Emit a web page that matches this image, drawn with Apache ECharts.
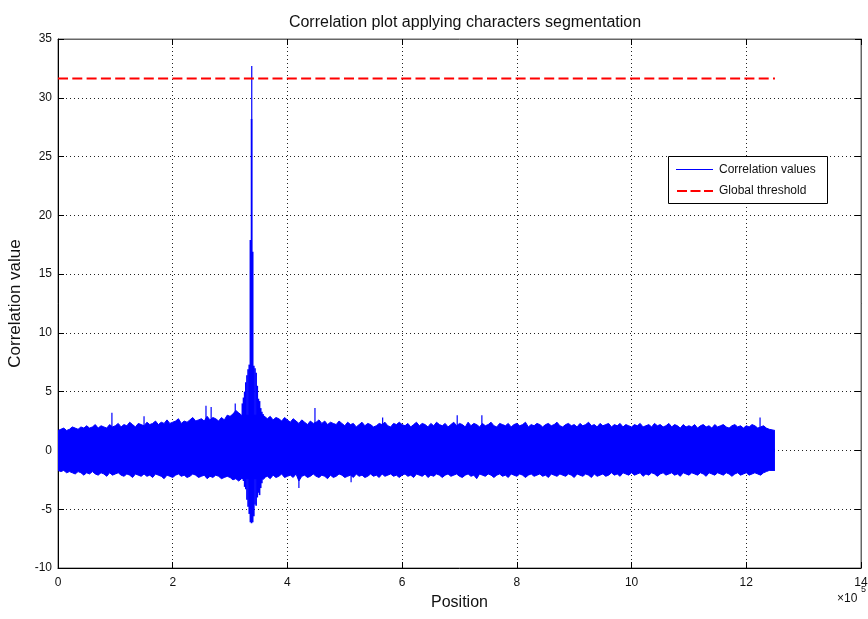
<!DOCTYPE html>
<html>
<head>
<meta charset="utf-8">
<script src="https://cdn.jsdelivr.net/npm/echarts@6/dist/echarts.min.js"></script>
<style>html,body{margin:0;padding:0;background:#fff}#c{width:868px;height:619px}</style>
</head>
<body>
<div id="c"></div>
<script>
// ---- data ----
const binSize = 5000; // positions per envelope sample
const envHigh = [
  1.7,1.8,1.9,1.7,1.8,2.0,1.9,1.8,2.0,1.9, 2.1,1.9,2.0,2.2,1.9,2.1,2.0,1.9,2.2,2.0,
  2.1,2.3,2.0,2.2,2.1,2.4,2.2,2.0,2.3,2.2, 2.1,2.4,2.2,2.3,2.5,2.2,2.4,2.3,2.6,2.3,
  2.4,2.5,2.7,2.3,2.5,2.4,2.6,2.8,2.5,2.6, 2.7,2.5,2.9,2.6,2.8,2.7,2.5,2.8,2.6,3.0,
  2.9,3.1,3.4,3.2,3.0,3.0,3.0,3.0,3.0,3.0, 3.0,3.0,2.9,2.7,2.9,2.6,2.8,2.7,2.5,2.8,
  2.6,2.4,2.7,2.5,2.3,2.6,2.4,2.2,2.5,2.3, 2.4,2.6,2.3,2.5,2.2,2.4,2.3,2.2,2.5,2.3,
  2.1,2.4,2.2,2.3,2.0,2.2,2.4,2.1,2.3,2.2, 2.0,2.1,2.3,2.2,2.4,2.1,2.0,2.3,2.2,2.4,
  2.2,2.1,2.3,2.0,2.2,2.4,2.1,2.3,2.2,2.0, 2.3,2.1,2.4,2.2,2.1,2.3,2.0,2.2,2.4,2.1,
  2.3,2.2,2.0,2.4,2.1,2.3,2.2,2.0,2.3,2.1, 2.2,2.4,2.1,2.0,2.3,2.2,2.1,2.3,2.0,2.2,
  2.3,2.1,2.2,2.4,2.0,2.2,2.1,2.3,2.2,2.0, 2.2,2.3,2.1,2.2,2.4,2.1,2.0,2.2,2.3,2.1,
  2.2,2.0,2.3,2.1,2.2,2.4,2.1,2.2,2.0,2.3, 2.1,2.2,2.3,2.0,2.2,2.1,2.3,2.0,2.2,2.1,
  2.0,2.2,2.1,2.3,2.0,2.1,2.2,2.0,2.3,2.1, 2.2,2.0,2.1,2.3,2.0,2.2,2.1,1.9,2.2,2.0,
  2.1,2.0,2.2,1.9,2.1,2.2,2.0,2.1,1.9,2.2, 2.0,2.1,2.2,2.0,1.9,2.1,2.2,2.0,2.1,1.9,
  2.1,2.0,2.2,2.1,1.9,2.0,2.1,1.9,1.8,1.7
];
const envLow = [
  -1.7,-1.8,-1.7,-1.9,-1.8,-1.9,-2.0,-1.8,-1.9,-2.1, -1.9,-2.0,-1.8,-2.0,-2.1,-1.9,-2.0,-2.2,-1.9,-2.1,
  -2.0,-1.9,-2.1,-2.2,-2.0,-2.1,-2.3,-2.0,-2.1,-2.2, -2.0,-2.2,-2.1,-2.3,-2.0,-2.1,-2.2,-2.4,-2.1,-2.2,
  -2.3,-2.1,-2.0,-2.2,-2.1,-2.3,-2.2,-2.0,-2.1,-2.3, -2.2,-2.1,-2.4,-2.2,-2.3,-2.1,-2.2,-2.4,-2.3,-2.2,
  -2.3,-2.5,-2.4,-2.6,-2.4,-2.4,-2.4,-2.4,-2.4,-2.4, -2.4,-2.4,-2.3,-2.2,-2.4,-2.1,-2.3,-2.2,-2.0,-2.3,
  -2.2,-2.1,-2.3,-2.0,-2.6,-2.2,-2.1,-2.3,-2.2,-2.0, -2.2,-2.3,-2.1,-2.2,-2.4,-2.1,-2.3,-2.2,-2.0,-2.1,
  -2.3,-2.2,-2.1,-2.3,-2.0,-2.2,-2.1,-2.3,-2.2,-2.0, -2.2,-2.1,-2.3,-2.0,-2.2,-2.1,-2.0,-2.2,-2.1,-2.3,
  -2.1,-2.0,-2.2,-2.1,-2.3,-2.0,-2.1,-2.2,-2.0,-2.3, -2.1,-2.2,-2.0,-2.1,-2.3,-2.1,-2.0,-2.2,-2.1,-2.0,
  -2.2,-2.3,-2.1,-2.0,-2.2,-2.1,-2.4,-2.0,-2.1,-2.2, -2.0,-2.1,-2.3,-2.1,-2.0,-2.2,-2.1,-2.3,-2.0,-2.1,
  -2.2,-2.0,-2.1,-2.3,-2.1,-2.0,-2.2,-2.1,-2.0,-2.2, -2.1,-2.3,-2.0,-2.1,-2.2,-2.0,-2.1,-2.2,-2.0,-2.1,
  -2.3,-2.0,-2.1,-2.2,-2.0,-2.1,-2.3,-2.0,-2.2,-2.1, -2.0,-2.2,-2.1,-1.9,-2.1,-2.0,-2.2,-1.9,-2.0,-2.1,
  -1.9,-2.1,-2.0,-1.9,-2.2,-2.0,-2.1,-1.9,-2.0,-2.2, -2.0,-1.9,-2.1,-2.0,-1.9,-2.1,-2.0,-2.2,-1.9,-2.0,
  -2.1,-1.9,-2.0,-2.1,-1.9,-2.0,-2.2,-1.9,-2.0,-2.1, -1.9,-2.0,-2.1,-1.9,-2.0,-2.2,-2.0,-1.9,-2.1,-2.0,
  -1.9,-2.1,-2.0,-1.9,-2.0,-2.1,-1.9,-1.8,-1.7,-1.7
];
// fine envelope around the correlation peak
const peakStart = 320000;
const peakBin = 2000;
const peakHigh = [4.0,4.5,5.0,5.8,6.4,6.9,7.3,17.9,28.2,16.9,7.2,7.0,6.6,5.5,4.4,4.2,3.6,3.3,3.1,2.9];
const peakLow  = [-2.4,-2.6,-3.1,-3.3,-4.2,-4.8,-5.4,-6.1,-6.2,-6.1,-5.6,-4.6,-4.7,-4.0,-3.6,-3.8,-3.2,-2.8,-2.5,-2.4];
// isolated spikes sticking out of the envelope
const spikePos = [94000, 150000, 258000, 267000, 309000, 337800, 448000, 566000, 696000, 739000, 1224000, 420000, 511000];
const spikeVal = [3.2, 2.9, 3.8, 3.7, 4.0, 32.7, 3.6, 2.8, 3.0, 3.0, 2.8, -3.2, -2.7];
// global threshold
const thresholdValue = 31.65;
const thresholdRange = [0, 1250000];
// axis ticks
const xTicks = [0, 2, 4, 6, 8, 10, 12, 14]; // x 10^5
const yTicks = [-10, -5, 0, 5, 10, 15, 20, 25, 30, 35];

// ---- build data for the library ----
const envPos = envHigh.map((h, i) => (i === envHigh.length - 1) ? envHigh.length * binSize : i * binSize);
const upperData = envHigh.map((v, i) => [envPos[i], v]);
const lowerData = envLow.map((v, i) => [envPos[i], v]);
const peakData = peakHigh.map((h, i) => [peakStart + i * peakBin, peakStart + (i + 1) * peakBin, peakLow[i], h]);
const spikeData = spikePos.map((p, i) => [p, spikeVal[i]]);
const thresholdData = thresholdRange.map(x => [x, thresholdValue]);

const BLUE = '#0000ff';
function renderBand(params, api) {
  const p0 = api.coord([api.value(0), api.value(3)]);
  const p1 = api.coord([api.value(1), api.value(2)]);
  return {
    type: 'rect',
    shape: { x: p0[0], y: p0[1], width: p1[0] - p0[0] + 0.5, height: p1[1] - p0[1] },
    style: { fill: BLUE }
  };
}
function renderSpike(params, api) {
  const a = api.coord([api.value(0), 0]);
  const b = api.coord([api.value(0), api.value(1)]);
  return {
    type: 'line',
    shape: { x1: a[0], y1: a[1], x2: b[0], y2: b[1] },
    style: { stroke: BLUE, lineWidth: 1.2 }
  };
}

const FONT = 'Liberation Sans, Arial, Helvetica, sans-serif';
const dotted = { color: '#222', type: [1, 3], width: 1 };
const xMin = xTicks[0] * 1e5, xMax = xTicks[xTicks.length - 1] * 1e5, xInt = (xTicks[1] - xTicks[0]) * 1e5;
const yMin = yTicks[0], yMax = yTicks[yTicks.length - 1], yInt = yTicks[1] - yTicks[0];

const chart = echarts.init(document.getElementById('c'), null, { renderer: 'canvas' });
chart.setOption({
  animation: false,
  backgroundColor: '#fff',
  title: {
    text: 'Correlation plot applying characters segmentation',
    left: 460, top: 10, textAlign: 'center',
    textStyle: { fontFamily: FONT, fontSize: 16, fontWeight: 'normal', color: '#111' }
  },
  grid: { left: 58, right: 7, top: 39, bottom: 51, containLabel: false, outerBoundsMode: 'none',
          show: true, borderColor: '#666', borderWidth: 1, backgroundColor: '#fff' },
  xAxis: [{
    type: 'value', min: xMin, max: xMax, interval: xInt, position: 'bottom',
    name: 'Position', nameLocation: 'middle', nameGap: 27,
    nameTextStyle: { fontFamily: FONT, fontSize: 16, color: '#111' },
    axisLine: { show: true, onZero: false, lineStyle: { color: '#000', width: 1 } },
    axisTick: { show: true, inside: true, length: 6, lineStyle: { color: '#000' } },
    axisLabel: { fontFamily: FONT, fontSize: 12, color: '#111', margin: 9, formatter: v => String(v / 1e5) },
    splitLine: { show: true, lineStyle: dotted }
  }, {
    type: 'value', min: xMin, max: xMax, interval: xInt, position: 'top',
    axisLine: { show: true, onZero: false, lineStyle: { color: '#666', width: 1 } },
    axisTick: { show: true, inside: true, length: 6, lineStyle: { color: '#000' } },
    axisLabel: { show: false }, splitLine: { show: false }
  }],
  yAxis: [{
    type: 'value', min: yMin, max: yMax, interval: yInt, position: 'left',
    name: 'Correlation value', nameLocation: 'middle', nameGap: 32,
    nameTextStyle: { fontFamily: FONT, fontSize: 17, color: '#111' },
    axisLine: { show: true, onZero: false, lineStyle: { color: '#000', width: 1 } },
    axisTick: { show: true, inside: true, length: 6, lineStyle: { color: '#000' } },
    axisLabel: { fontFamily: FONT, fontSize: 12, color: '#111', margin: 6 },
    splitLine: { show: true, lineStyle: dotted }
  }, {
    type: 'value', min: yMin, max: yMax, interval: yInt, position: 'right',
    axisLine: { show: true, onZero: false, lineStyle: { color: '#666', width: 1 } },
    axisTick: { show: true, inside: true, length: 6, lineStyle: { color: '#000' } },
    axisLabel: { show: false }, splitLine: { show: false }
  }],
  series: [
    { type: 'line', name: 'Correlation values', data: upperData, symbol: 'none', silent: true, z: 2,
      lineStyle: { color: BLUE, width: 1 }, areaStyle: { color: BLUE, opacity: 1, origin: -0.15 } },
    { type: 'line', name: 'Correlation values', data: lowerData, symbol: 'none', silent: true, z: 2,
      lineStyle: { color: BLUE, width: 1 }, areaStyle: { color: BLUE, opacity: 1, origin: 0.15 } },
    { type: 'custom', name: 'Correlation values', renderItem: renderBand, data: peakData,
      encode: { x: [0, 1], y: [2, 3] }, clip: true, silent: true, z: 3 },
    { type: 'custom', name: 'Correlation values', renderItem: renderSpike, data: spikeData,
      encode: { x: 0, y: 1 }, clip: true, silent: true, z: 3 },
    { type: 'line', name: 'Global threshold', data: thresholdData, symbol: 'none', silent: true,
      lineStyle: { color: '#ff0000', width: 2, type: [10, 4.3] }, z: 5 }
  ],
  graphic: [
    { type: 'rect', left: 668, top: 156, z: 100,
      shape: { width: 159, height: 47 }, style: { fill: '#fff', stroke: '#000', lineWidth: 1 } },
    { type: 'line', z: 101, shape: { x1: 676, y1: 169.5, x2: 713, y2: 169.5 }, style: { stroke: BLUE, lineWidth: 1 } },
    { type: 'line', z: 101, shape: { x1: 677, y1: 191, x2: 713, y2: 191 }, style: { stroke: '#ff0000', lineWidth: 2, lineDash: [10, 3.5] } },
    { type: 'text', z: 101, x: 719, y: 170, style: { text: 'Correlation values', fontFamily: FONT, fontSize: 12, fill: '#111', verticalAlign: 'middle' } },
    { type: 'text', z: 101, x: 719, y: 191, style: { text: 'Global threshold', fontFamily: FONT, fontSize: 12, fill: '#111', verticalAlign: 'middle' } },
    { type: 'text', z: 101, x: 837, y: 599, style: { text: '×10', fontFamily: FONT, fontSize: 12, fill: '#111', verticalAlign: 'middle' } },
    { type: 'text', z: 101, x: 861, y: 590, style: { text: '5', fontFamily: FONT, fontSize: 9, fill: '#111', verticalAlign: 'middle' } }
  ]
});
</script>
</body>
</html>
